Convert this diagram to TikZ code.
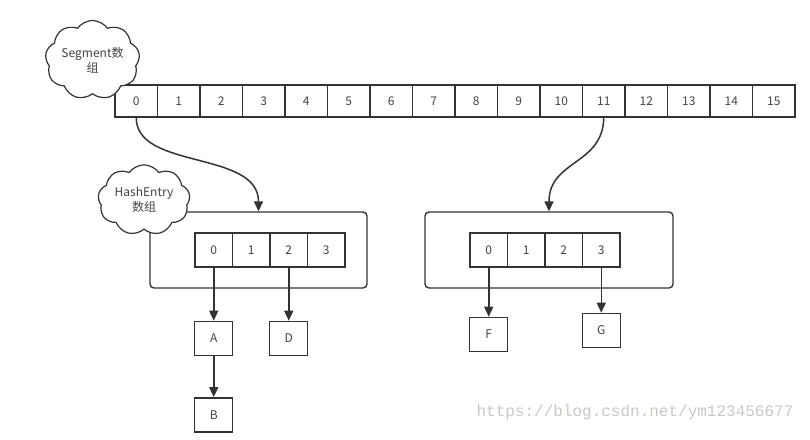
\documentclass[tikz,border=0pt]{standalone}
\usepackage{fontspec}
\setmainfont{Noto Sans CJK SC}
\newfontfamily\urlfont{Liberation Mono}
\usepackage{tikz}
\usetikzlibrary{shapes.symbols, arrows.meta, positioning}
\definecolor{lineGray}{RGB}{51,51,51}
\definecolor{textGray}{RGB}{68,68,68}
\definecolor{markGray}{RGB}{200,200,195}

\begin{document}
\begin{tikzpicture}[
  x=1pt, y=-1pt,
  font=\fontsize{12}{15}\selectfont, text=textGray,
  cell/.style={draw=lineGray, line width=1.4pt, minimum width=42.5pt, minimum height=32pt, inner sep=0pt},
  hcell/.style={cell, minimum width=37.5pt, minimum height=34pt},
  holder/.style={draw=lineGray, line width=1.4pt, rounded corners=4pt, minimum height=76pt, inner sep=0pt},
  leaf/.style={draw=lineGray, line width=1.4pt, minimum width=38pt, minimum height=34pt, inner sep=0pt},
  tag/.style={cloud, cloud puffs=9, cloud puff arc=110, draw=lineGray, line width=1.2pt, fill=white, align=center, inner sep=0pt},
  arr/.style={-{Triangle[length=10pt,width=9pt]}, line width=1.5pt, lineGray}
]
  \useasboundingbox (0,0) rectangle (810,439);
  % Segment array
  \foreach \i in {0,...,15}
    \node[cell] (s\i) at (136.25+42.5*\i,101) {\i};
  \node[tag, aspect=1.3, minimum width=89pt, minimum height=68pt] (segtag) at (92.5,60) {Segment数\\组};
  % HashEntry holders
  \node[holder, minimum width=217pt] (hl) at (258.5,250) {};
  \node[holder, minimum width=248pt] (hr) at (549,250) {};
  \foreach \i in {0,...,3} {
    \node[hcell] (l\i) at (213.75+37.5*\i,250) {\i};
    \node[hcell] (r\i) at (488.75+37.5*\i,250) {\i};
  }
  \node[tag, aspect=1.4, minimum width=92pt, minimum height=66pt] (hashtag) at (144,200) {HashEntry\\数组};
  \draw[arr] (s0.south) .. controls (136,170) and (258.5,150) .. (hl.north);
  \draw[arr] (s11.south) .. controls (603,165) and (549,160) .. (hr.north);
  % entries
  \node[leaf, below=53pt of l0] (A) {A};
  \node[leaf, below=53pt of l2] (D) {D};
  \node[leaf, below=41pt of A] (B) {B};
  \node[leaf, below=49pt of r0] (F) {F};
  \node[leaf, below=45pt of r3] (G) {G};
  \draw[arr] (l0) -- (A);
  \draw[arr] (l2) -- (D);
  \draw[arr] (A) -- (B);
  \draw[arr] (r0) -- (F);
  \draw[arr] (r3) -- (G);
  \node[text=markGray, font=\urlfont\fontsize{16}{18}\selectfont] (mark) at (635,412) {https://blog.csdn.net/ym123456677};
\end{tikzpicture}
\end{document}
